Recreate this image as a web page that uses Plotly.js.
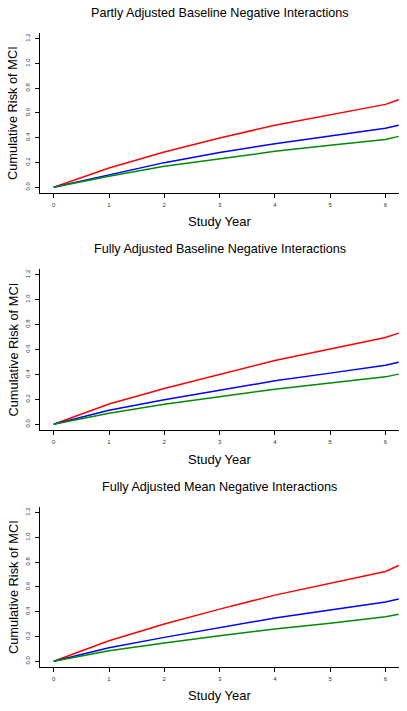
<!DOCTYPE html>
<html><head><meta charset="utf-8">
<script src="https://cdn.plot.ly/plotly-3.0.1.min.js"></script>
<style>html,body{margin:0;padding:0;background:#fff}</style>
</head><body><div id="chart" style="width:407px;height:711px"></div>
<script>
const years = [0, 1, 2, 3, 4, 5, 6, 6.24];
const panelTitles = [
  "Partly Adjusted Baseline Negative Interactions",
  "Fully Adjusted Baseline Negative Interactions",
  "Fully Adjusted Mean Negative Interactions"
];
const p1Red   = [0, 0.156, 0.285, 0.398, 0.500, 0.586, 0.669, 0.707];
const p1Blue  = [0, 0.102, 0.199, 0.280, 0.352, 0.414, 0.476, 0.500];
const p1Green = [0, 0.089, 0.169, 0.231, 0.290, 0.339, 0.385, 0.411];
const p2Red   = [0, 0.163, 0.287, 0.402, 0.512, 0.603, 0.696, 0.731];
const p2Blue  = [0, 0.113, 0.196, 0.273, 0.348, 0.410, 0.474, 0.498];
const p2Green = [0, 0.088, 0.161, 0.222, 0.281, 0.330, 0.380, 0.402];
const p3Red   = [0, 0.166, 0.301, 0.421, 0.534, 0.628, 0.725, 0.773];
const p3Blue  = [0, 0.110, 0.193, 0.274, 0.349, 0.413, 0.478, 0.502];
const p3Green = [0, 0.086, 0.148, 0.207, 0.260, 0.306, 0.360, 0.379];
const xTicks = [0, 1, 2, 3, 4, 5, 6];
const yTicks = [0, 0.2, 0.4, 0.6, 0.8, 1.0, 1.2];
const yTickText = ["0.0", "0.2", "0.4", "0.6", "0.8", "1.0", "1.2"];

const W = 407, H = 711;
const FONT = "Liberation Sans, Arial, Helvetica, sans-serif";
const panels = [
  {red: p1Red, blue: p1Blue, green: p1Green, top: 33, bottom: 193, titleY: 12.5, xlabY: 222},
  {red: p2Red, blue: p2Blue, green: p2Green, top: 269, bottom: 430, titleY: 249.5, xlabY: 459.5},
  {red: p3Red, blue: p3Blue, green: p3Green, top: 507, bottom: 667, titleY: 487, xlabY: 695}
];
const colors = {red: "#ff0000", blue: "#0000ff", green: "#008b00"};

const traces = [];
const layout = {
  width: W, height: H,
  margin: {l: 0, r: 0, t: 0, b: 0},
  paper_bgcolor: "#fff", plot_bgcolor: "#fff",
  showlegend: false,
  font: {family: FONT, color: "#000"},
  annotations: []
};
const py = p => 1 - p / H;
panels.forEach((p, i) => {
  const n = i === 0 ? "" : String(i + 1);
  ["red", "blue", "green"].forEach(c => {
    traces.push({
      x: years, y: p[c], type: "scatter", mode: "lines",
      line: {color: colors[c], width: 1.5},
      xaxis: "x" + n, yaxis: "y" + n, hoverinfo: "skip"
    });
  });
  layout["xaxis" + n] = {
    domain: [40 / W, 399 / W], range: [-0.248, 6.245], anchor: "y" + n,
    showgrid: false, zeroline: false, showline: true, linecolor: "#000", linewidth: 1.2,
    ticks: "outside", ticklen: 4, tickwidth: 1, tickcolor: "#000", ticklabelstandoff: 2,
    tickvals: xTicks, ticktext: xTicks.map(String),
    tickfont: {size: 6, color: "#333", family: FONT}
  };
  layout["yaxis" + n] = {
    domain: [py(p.bottom), py(p.top)], range: [-0.046, 1.245], anchor: "x" + n,
    showgrid: false, zeroline: false, showline: true, linecolor: "#000", linewidth: 1.2,
    ticks: "outside", ticklen: 4, tickwidth: 1, tickcolor: "#000", ticklabelstandoff: 2,
    tickvals: yTicks, ticktext: yTickText, tickangle: -90,
    tickfont: {size: 6, color: "#333", family: FONT}
  };
  layout.annotations.push({
    text: panelTitles[i], xref: "paper", yref: "paper",
    x: 219.5 / W, y: py(p.titleY), xanchor: "center", yanchor: "middle",
    showarrow: false, font: {size: 12.6, family: FONT, color: "#000"}
  });
  layout.annotations.push({
    text: "Study Year", xref: "paper", yref: "paper",
    x: 219.5 / W, y: py(p.xlabY), xanchor: "center", yanchor: "middle",
    showarrow: false, font: {size: 13, family: FONT, color: "#000"}
  });
  layout.annotations.push({
    text: "Cumulative Risk of MCI", xref: "paper", yref: "paper",
    x: 13 / W, y: py((p.top + p.bottom) / 2), xanchor: "center", yanchor: "middle",
    textangle: -90, showarrow: false, font: {size: 12.8, family: FONT, color: "#000"}
  });
});
Plotly.newPlot("chart", traces, layout, {displayModeBar: false, staticPlot: true});
</script></body></html>
